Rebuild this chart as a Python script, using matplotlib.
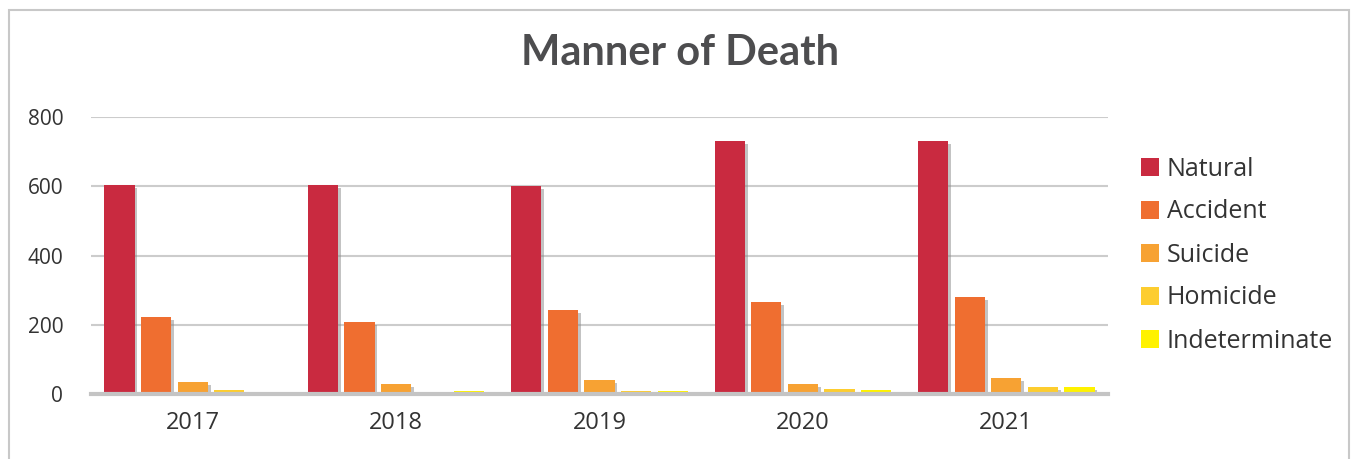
import numpy as np
import matplotlib
matplotlib.use("Agg")
import matplotlib.pyplot as plt
import matplotlib.patheffects as pe
from matplotlib.patches import Rectangle, Patch

# data
years = ["2017", "2018", "2019", "2020", "2021"]
natural = [603, 603, 600, 730, 730]
accident = [222, 208, 242, 265, 280]
suicide = [35, 29, 40, 29, 46]
homicide = [12, 5, 8, 14, 21]
indeterminate = [6, 8, 8, 12, 21]

series_names = ["Natural", "Accident", "Suicide", "Homicide", "Indeterminate"]
series_vals = [natural, accident, suicide, homicide, indeterminate]
colors = ["#C92A40", "#EF6E30", "#F7A233", "#FDCD2F", "#FFF200"]

plt.rcParams['font.family'] = ['Open Sans', 'DejaVu Sans']

fig = plt.figure(figsize=(13.53, 4.59), dpi=100)
W, H = 1353, 459

# outer frame (bottom edge runs off the picture)
fig.patches.append(Rectangle((9 / W, -0.05), (1349 - 9) / W, (H - 10) / H + 0.05,
                             transform=fig.transFigure, fill=False,
                             edgecolor="#c8c8c8", linewidth=1.5))

ax = fig.add_axes([91 / W, (H - 394) / H, (1108 - 91) / W, (394 - 117) / H])

x = np.arange(len(years))
step = 0.18
width = 0.148
shadow = [pe.SimplePatchShadow(offset=(2, -2), shadow_rgbFace="#888888", alpha=0.5), pe.Normal()]
for i, (name, vals, c) in enumerate(zip(series_names, series_vals, colors)):
    ax.bar(x + (i - 2) * step, vals, width, color=c, label=name,
           zorder=3, path_effects=shadow)

ax.set_ylim(0, 800)
ax.set_xlim(-0.5, 4.5)
ax.set_yticks([0, 200, 400, 600, 800])
ax.set_xticks(x)
ax.set_xticklabels(years, fontsize=17, color="#333333")
ax.tick_params(axis="y", labelsize=15, colors="#333333", length=0, pad=20)
ax.tick_params(axis="x", length=0, pad=12)
ax.grid(axis="y", color="#cccccc", linewidth=1.5, zorder=0)
for s in ["top", "right", "left"]:
    ax.spines[s].set_visible(False)
ax.spines["bottom"].set_color("#c4c4c4")
ax.spines["bottom"].set_linewidth(3)
ax.spines["bottom"].set_zorder(4)

fig.text(680 / W, 1 - 53 / H, "Manner of Death", ha="center", va="center",
         fontsize=30, fontweight="bold", color="#4d4d4f", family=["Lato", "DejaVu Sans"])

handles = [Patch(facecolor=c, label=n) for n, c in zip(series_names, colors)]
ax.legend(handles=handles, loc="center left", bbox_to_anchor=(1118 / W, 1 - 255 / H),
          bbox_transform=fig.transFigure, frameon=False, fontsize=18,
          handlelength=0.75, handleheight=0.75, handletextpad=0.3,
          labelspacing=0.72, labelcolor="#333333")

fig.savefig("out.png", dpi=100)
